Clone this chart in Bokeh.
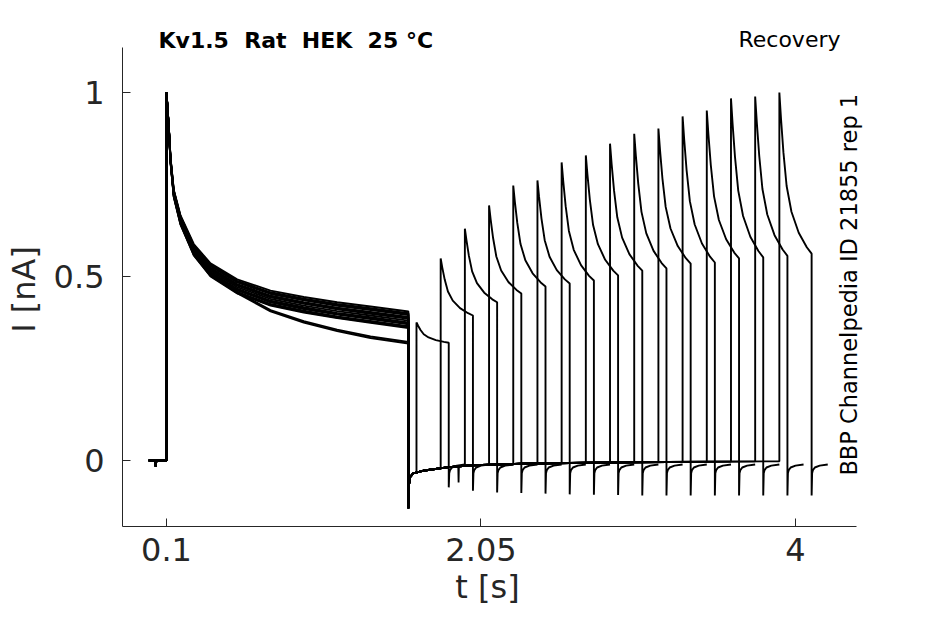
import numpy as np
from bokeh.plotting import figure
from bokeh.models import Range1d, FixedTicker, Label, ColumnDataSource
from bokeh.embed import file_html
from bokeh.resources import INLINE

# ---- axis ticks ----
x_ticks = [0.1, 2.05, 4]
y_ticks = [0, 0.5, 1]
x_tick_labels = {0.1: "0.1", 2.05: "2.05", 4: "4"}
y_tick_labels = {0: "0", 0.5: "0.5", 1: "1"}
x_limits = (-0.1728, 4.378)
y_limits = (-0.1793, 1.1223)

# ---- holding baseline before the first step ----
pre_t = [-0.01, 0.03, 0.033, 0.037, 0.1]
pre_i = [0.0, 0.0, -0.016, 0.0, 0.0]

# ---- first (conditioning) pulse ----
p1_t = [0.1, 0.114, 0.125, 0.145, 0.187, 0.269, 0.373, 0.538, 0.745, 0.951, 1.158, 1.365, 1.6]
p1_main = [1.0, 0.906, 0.815, 0.725, 0.652, 0.571, 0.516, 0.471, 0.439, 0.421, 0.406, 0.394, 0.380]
p1_low = [1.0, 0.906, 0.815, 0.722, 0.648, 0.563, 0.505, 0.455, 0.405, 0.375, 0.352, 0.333, 0.318]
# per-sweep level at the end of the first pulse (offset from its curve) and which curve
p1_offset = [0.0, 0.004, -0.02, 0.015, -0.01, 0.02, 0.005, -0.015, 0.01, 0.025, -0.005, 0.0, 0.018, -0.018, 0.008, -0.008]
p1_is_low = [True, True, False, False, False, False, False, False, False, False, False, False, False, False, False, False]

# ---- recovery baseline after the first pulse ----
base_t = [1.6, 1.602, 1.61, 1.63, 1.7, 1.85, 2.0, 2.3, 2.7, 3.2, 3.9]
base_i = [-0.13, -0.07, -0.045, -0.035, -0.027, -0.018, -0.013, -0.009, -0.006, -0.004, -0.002]

# ---- second (test) pulse ----
p2_start = [1.65, 1.8, 1.95, 2.1, 2.25, 2.4, 2.55, 2.7, 2.85, 3.0, 3.15, 3.3, 3.45, 3.6, 3.75, 3.9]
p2_peak = [0.375, 0.549, 0.630, 0.693, 0.747, 0.761, 0.810, 0.829, 0.861, 0.888, 0.902, 0.935, 0.951, 0.984, 0.989, 1.0]
p2_end = [0.320, 0.394, 0.430, 0.454, 0.473, 0.481, 0.489, 0.503, 0.516, 0.522, 0.535, 0.538, 0.549, 0.552, 0.556, 0.562]
p2_dt = [0.0, 0.01, 0.025, 0.045, 0.075, 0.12, 0.17, 0.2]
p2_frac = [1.0, 0.84, 0.63, 0.42, 0.26, 0.13, 0.04, 0.0]

# ---- tail current after the test pulse ----
tail_depth = [-0.073, -0.082, -0.087, -0.088, -0.090, -0.092, -0.093, -0.094, -0.095, -0.095, -0.095, -0.095, -0.095, -0.095, -0.095, -0.095]
tail_dt = [0.003, 0.008, 0.02, 0.05, 0.1]
tail_i = [-0.035, -0.026, -0.019, -0.014, -0.011]

glitch_t = [1.909, 1.911, 1.913]
glitch_i = [-0.017, -0.06, -0.017]

# ---- assemble the sweeps ----
xs, ys = [], []
for k in range(len(p2_start)):
    t2 = p2_start[k]
    curve = p1_low if p1_is_low[k] else p1_main
    c_end = curve[-1]
    tt = list(pre_t)
    yy = list(pre_i)
    for t, v in zip(p1_t, curve):
        tt.append(t)
        yy.append(v + p1_offset[k] * (1.0 - v) / (1.0 - c_end))
    for t, v in zip(base_t, base_i):
        if t < t2:
            tt.append(t)
            yy.append(v)
    tt.append(t2)
    yy.append(float(np.interp(t2, base_t, base_i)))
    pk, en = p2_peak[k], p2_end[k]
    for d, f in zip(p2_dt, p2_frac):
        tt.append(t2 + d)
        yy.append(en + (pk - en) * f)
    t_off = t2 + p2_dt[-1]
    tt.append(t_off)
    yy.append(tail_depth[k])
    for d, v in zip(tail_dt, tail_i):
        tt.append(t_off + d)
        yy.append(v)
    xs.append(tt)
    ys.append(yy)

W, H = 929, 608
# frame fills the canvas; axes are pinned at the spine positions
p = figure(width=W, height=H, output_backend="svg", toolbar_location=None,
           x_range=Range1d(-0.9293, 4.8309), y_range=Range1d(-0.40217, 1.25),
           min_border=0, min_border_left=0, min_border_right=0,
           min_border_top=0, min_border_bottom=0)
p.outline_line_color = None
p.xgrid.grid_line_color = None
p.ygrid.grid_line_color = None
p.background_fill_color = "white"
p.border_fill_color = "white"

src = ColumnDataSource(dict(xs=xs, ys=ys))
p.multi_line(xs="xs", ys="ys", source=src, line_color="black", line_width=1.9)
p.line(glitch_t, glitch_i, line_color="black", line_width=1.8)

axc = "#262626"
for ax, ticks, labs in ((p.xaxis[0], x_ticks, x_tick_labels), (p.yaxis[0], y_ticks, y_tick_labels)):
    ax.ticker = FixedTicker(ticks=ticks)
    ax.major_label_overrides = labs
    ax.minor_tick_line_color = None
    ax.major_tick_in = 8
    ax.major_tick_out = 0
    ax.axis_line_color = axc
    ax.major_tick_line_color = axc
    ax.major_label_text_color = axc
    ax.major_label_text_font = "DejaVu Sans"
    ax.major_label_text_font_size = "32px"
p.xaxis[0].fixed_location = y_limits[0]
p.xaxis[0].bounds = x_limits
p.yaxis[0].fixed_location = x_limits[0]
p.yaxis[0].bounds = y_limits
p.xaxis[0].major_label_standoff = 12
p.yaxis[0].major_label_standoff = 18

font = "DejaVu Sans"
nb = "\u00a0"
title_text = "Kv1.5" + nb + nb + "Rat" + nb + nb + "HEK" + nb + nb + "25 °C"
p.add_layout(Label(x=2.09, y=-0.3451, text="t [s]", text_align="center", text_baseline="middle",
                   text_font=font, text_font_size="32px", text_color=axc))
p.add_layout(Label(x=-0.7805, y=0.4647, text="I [nA]", angle=np.pi / 2, text_align="center",
                   text_baseline="middle", text_font=font, text_font_size="32px", text_color=axc))
p.add_layout(Label(x=0.0504, y=1.1413, text=title_text, text_align="left",
                   text_baseline="alphabetic", text_font=font, text_font_style="bold",
                   text_font_size="22px", text_color="black"))
p.add_layout(Label(x=4.279, y=1.1440, text="Recovery", text_align="right",
                   text_baseline="alphabetic", text_font=font, text_font_size="22px", text_color="black"))
p.add_layout(Label(x=4.334, y=-0.041, text="BBP Channelpedia ID 21855 rep 1", angle=np.pi / 2,
                   text_align="left", text_baseline="alphabetic", text_font=font,
                   text_font_size="22.5px", text_color="black"))

open("out.html", "w").write(file_html(p, INLINE))
